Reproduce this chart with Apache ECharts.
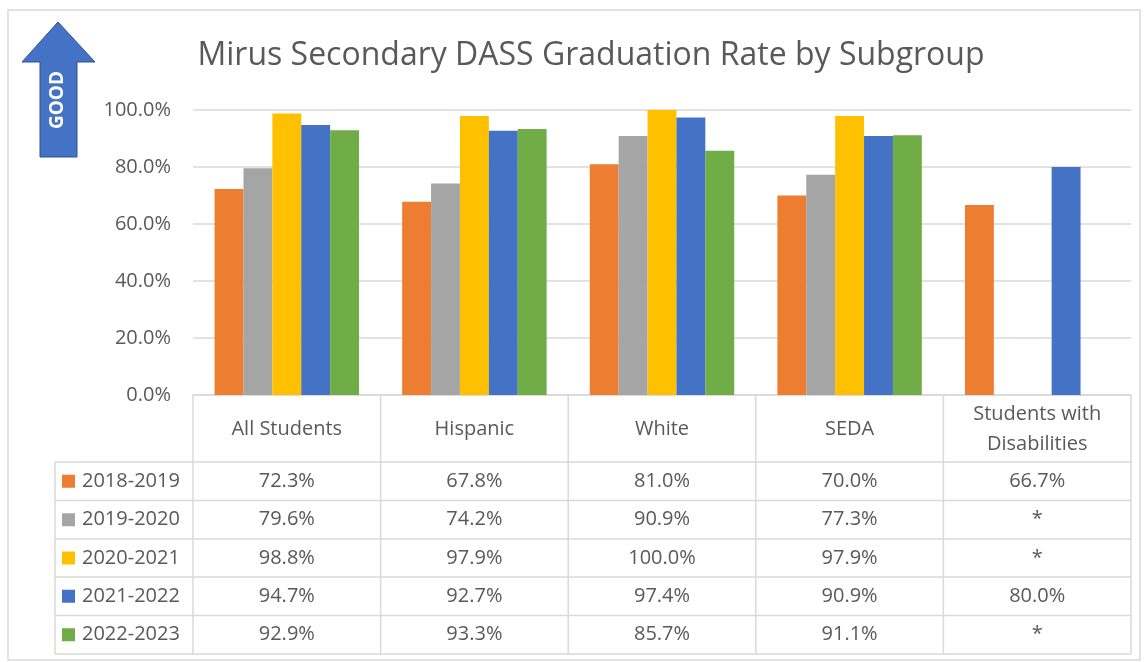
<!DOCTYPE html>
<html>
<head>
<meta charset="utf-8">
<script src="https://cdn.jsdelivr.net/npm/echarts@6/dist/echarts.min.js"></script>
<style>
  html, body { margin: 0; padding: 0; background: #fff; }
  #main { width: 1148px; height: 662px; }
</style>
</head>
<body>
<div id="main"></div>
<script>
// data
const categories = ['All Students', 'Hispanic', 'White', 'SEDA', 'Students with\nDisabilities']
const years = ['2018-2019', '2019-2020', '2020-2021', '2021-2022', '2022-2023']
const rate1819 = [72.3, 67.8, 81.0, 70.0, 66.7]
const rate1920 = [79.6, 74.2, 90.9, 77.3, null]
const rate2021 = [98.8, 97.9, 100.0, 97.9, null]
const rate2122 = [94.7, 92.7, 97.4, 90.9, 80.0]
const rate2223 = [92.9, 93.3, 85.7, 91.1, null]
const colors = ['#ED7D31', '#A5A5A5', '#FFC000', '#4472C4', '#70AD47']

const allRates = [rate1819, rate1920, rate2021, rate2122, rate2223]
const txtColor = '#595959'
const lineColor = '#d9d9d9'
const font = 'Open Sans, Noto Sans, sans-serif'
const cellFont = '20px ' + font

// layout
const plotLeft = 193, plotRight = 1131, plotTop = 110, plotBottom = 395
const tableLeft = 55
const headerBottom = 462
const rowLines = [462, 500.5, 539, 577, 615.5, 654]

const chart = echarts.init(document.getElementById('main'))

const option = {
  animation: false,
  backgroundColor: '#fff',
  textStyle: { fontFamily: font },
  title: {
    text: 'Mirus Secondary DASS Graduation Rate by Subgroup',
    left: 586,
    textAlign: 'center',
    top: 35,
    textStyle: { fontSize: 32, fontWeight: 'normal', color: txtColor, fontFamily: font }
  },
  grid: {
    left: plotLeft,
    right: 1148 - plotRight,
    top: plotTop,
    bottom: 662 - plotBottom
  },
  xAxis: {
    type: 'category',
    data: categories,
    axisLine: { lineStyle: { color: lineColor, width: 1.5 } },
    axisTick: { show: false },
    axisLabel: { show: false }
  },
  yAxis: {
    type: 'value',
    min: 0,
    max: 100,
    interval: 20,
    axisLine: { show: false },
    axisTick: { show: false },
    axisLabel: {
      formatter: v => v.toFixed(1) + '%',
      color: txtColor,
      fontSize: 20,
      margin: 22,
      fontFamily: font
    },
    splitLine: { lineStyle: { color: lineColor, width: 1.5 } }
  },
  series: years.map((y, i) => ({
    name: y,
    type: 'bar',
    data: allRates[i],
    barGap: '0%',
    barCategoryGap: '23%',
    itemStyle: { color: colors[i] }
  }))
}
chart.setOption(option)

// data table under the axis, built from the same arrays
function buildTable() {
  const g = []
  const ls = { stroke: lineColor, lineWidth: 1.5 }
  const colEdges = []
  for (let i = 0; i <= categories.length; i++) {
    colEdges.push(plotLeft + (plotRight - plotLeft) / categories.length * i)
  }
  // vertical lines
  colEdges.forEach(x => {
    g.push({ type: 'line', shape: { x1: x, y1: plotBottom, x2: x, y2: rowLines[rowLines.length - 1] }, style: ls, silent: true })
  })
  g.push({ type: 'line', shape: { x1: tableLeft, y1: headerBottom, x2: tableLeft, y2: rowLines[rowLines.length - 1] }, style: ls, silent: true })
  // horizontal lines
  rowLines.forEach(y => {
    g.push({ type: 'line', shape: { x1: tableLeft, y1: y, x2: plotRight, y2: y }, style: ls, silent: true })
  })
  // header
  categories.forEach((c, i) => {
    const cx = chart.convertToPixel({ xAxisIndex: 0 }, c)
    g.push({
      type: 'text', x: cx, y: (plotBottom + headerBottom) / 2 + 1,
      style: { text: c, fill: txtColor, font: cellFont, align: 'center', verticalAlign: 'middle', lineHeight: 30 },
      silent: true
    })
  })
  // rows
  years.forEach((y, r) => {
    const cy = (rowLines[r] + rowLines[r + 1]) / 2
    g.push({ type: 'rect', shape: { x: 62, y: cy - 6.5, width: 13, height: 13 }, style: { fill: colors[r] }, silent: true })
    g.push({
      type: 'text', x: 82, y: cy,
      style: { text: y, fill: txtColor, font: cellFont, align: 'left', verticalAlign: 'middle' },
      silent: true
    })
    categories.forEach((c, i) => {
      const v = allRates[r][i]
      const cx = chart.convertToPixel({ xAxisIndex: 0 }, c)
      g.push({
        type: 'text', x: cx, y: cy,
        style: { text: v == null ? '*' : v.toFixed(1) + '%', fill: txtColor, font: cellFont, align: 'center', verticalAlign: 'middle' },
        silent: true
      })
    })
  })
  // outer frame
  g.push({ type: 'rect', shape: { x: 8, y: 10, width: 1132, height: 650 }, style: { fill: 'none', stroke: lineColor, lineWidth: 1.5 }, silent: true })
  // GOOD arrow
  g.push({
    type: 'polygon',
    shape: { points: [[58, 22], [95, 62], [77, 62], [77, 157], [40, 157], [40, 62], [22, 62]] },
    style: { fill: '#4472C4', stroke: '#2F528F', lineWidth: 1 },
    silent: true
  })
  g.push({
    type: 'text', x: 58, y: 100, rotation: Math.PI / 2,
    style: { text: 'GOOD', fill: '#fff', font: 'bold 19px ' + font, align: 'center', verticalAlign: 'middle' },
    silent: true
  })
  chart.setOption({ graphic: g })
}
buildTable()
</script>
</body>
</html>
